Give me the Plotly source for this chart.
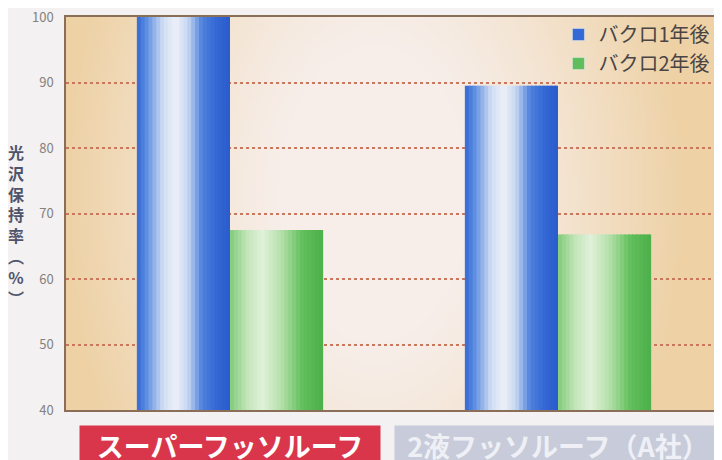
import base64, struct, zlib
import numpy as np
import plotly.graph_objects as go

# ---------------- data ----------------
categories = ["スーパーフッソルーフ", "2液フッソルーフ（A社）"]
series_names = ["バクロ1年後", "バクロ2年後"]
values_1yr = [100, 89.5]
values_2yr = [67.5, 66.8]
y_ticks = [40, 50, 60, 70, 80, 90, 100]
y_title = "光沢保持率(%)"

# ---------------- styling helpers ----------------
def hex2rgb(h):
    h = h.lstrip("#")
    return np.array([int(h[i:i + 2], 16) for i in (0, 2, 4)], float)

def profile(stops, t):
    pos = [p for p, _ in stops]
    cols = [hex2rgb(c) for _, c in stops]
    for i in range(len(pos) - 1):
        if pos[i] <= t <= pos[i + 1]:
            f = (t - pos[i]) / (pos[i + 1] - pos[i])
            c = cols[i] * (1 - f) + cols[i + 1] * f
            return "rgb(%d,%d,%d)" % tuple(c.round())
    c = cols[-1]
    return "rgb(%d,%d,%d)" % tuple(c.round())

blue_stops = [(0.0, "#3468d4"), (0.1, "#5a8ce0"), (0.28, "#cfdcf3"), (0.42, "#eef1f8"),
              (0.55, "#c4d5f1"), (0.7, "#4f82dc"), (0.85, "#3468d4"), (1.0, "#2a5ccb")]
green_stops = [(0.0, "#7fcb79"), (0.18, "#c2e5b8"), (0.35, "#e0f1d9"), (0.55, "#b5e0aa"),
               (0.78, "#62bf5c"), (1.0, "#4caf49")]

def png_data_uri(w, h):
    xs = np.linspace(0, 1, w)[None, :]
    ys = np.linspace(0, 1, h)[:, None]
    d = np.sqrt(((xs - 0.47) / 0.5) ** 2 + ((ys - 0.45) / 1.3) ** 2)
    f = np.clip((d - 0.3) / 0.65, 0, 1) ** 1.2
    c0 = hex2rgb("#f7eee9")
    c1 = hex2rgb("#eed2a6")
    img = (c0[None, None, :] * (1 - f[..., None]) + c1[None, None, :] * f[..., None]).astype(np.uint8)
    raw = b"".join(b"\x00" + img[r].tobytes() for r in range(h))
    def chunk(t, data):
        c = struct.pack(">I", len(data)) + t + data
        return c + struct.pack(">I", zlib.crc32(t + data) & 0xffffffff)
    png = b"\x89PNG\r\n\x1a\n" + chunk(b"IHDR", struct.pack(">IIBBBBB", w, h, 8, 2, 0, 0, 0)) \
        + chunk(b"IDAT", zlib.compress(raw, 9)) + chunk(b"IEND", b"")
    return "data:image/png;base64," + base64.b64encode(png).decode()

FONT = "Noto Sans CJK JP"
fig = go.Figure()

bar_w = 0.284
N = 24
for vals, name, stops, base, legend_t in [
    (values_1yr, series_names[0], blue_stops, -bar_w, 0.85),
    (values_2yr, series_names[1], green_stops, 0.0, 0.8),
]:
    sw = bar_w / N
    for k in range(N):
        t = (k + 0.5) / N
        width = min(sw * 1.6, bar_w - k * sw)
        fig.add_trace(go.Bar(
            x=categories, y=vals,
            offset=base + k * sw, width=width,
            marker=dict(color=profile(stops, t), line=dict(width=0)),
            name=name, showlegend=False, hoverinfo="skip",
        ))
    # legend entry
    fig.add_trace(go.Bar(
        x=categories, y=[None, None], name=name,
        marker=dict(color=profile(stops, legend_t)), showlegend=True,
    ))

fig.update_layout(
    width=714, height=452,
    margin=dict(l=58, r=0, t=9, b=50, autoexpand=False),
    barmode="overlay",
    paper_bgcolor="#f3f1f1",
    plot_bgcolor="rgba(0,0,0,0)",
    font=dict(family=FONT),
    showlegend=True,
    legend=dict(x=0.99, y=1.005, xanchor="right", yanchor="top",
                bgcolor="rgba(0,0,0,0)", font=dict(size=20, color="#4a4444"),
                itemwidth=30, tracegroupgap=0),
    images=[dict(source=png_data_uri(160, 100), xref="paper", yref="paper",
                 x=0, y=1, sizex=1, sizey=1, sizing="stretch",
                 xanchor="left", yanchor="top", layer="below")],
)

fig.update_xaxes(range=[-0.5, 1.5], showticklabels=False, showgrid=False,
                 showline=True, mirror=True, linecolor="#8b6e58", linewidth=1.5,
                 ticks="", fixedrange=True)
fig.update_yaxes(range=[40, 100], tickvals=y_ticks, showgrid=True,
                 griddash="dot", gridcolor="#c9785e", gridwidth=1.5,
                 showline=True, mirror=True, linecolor="#8b6e58", linewidth=1.5,
                 tickfont=dict(size=13, color="#858080"), ticks="", ticklabelstandoff=8,
                 ticklabeloverflow="allow", zeroline=False, fixedrange=True)

# y-axis title (vertical stacked characters)
vert = {"(": "︵", ")": "︶"}
fig.add_annotation(text="<br>".join(vert.get(ch, ch) for ch in y_title),
                   xref="paper", yref="paper", x=0, y=0.471, xshift=-50,
                   xanchor="center", yanchor="middle", showarrow=False,
                   font=dict(size=16, color="#50546a", family=FONT, weight="bold"))

# category labels as badges
badge_styles = [dict(bg="#d9364b", fg="#ffffff", w=300), dict(bg="#c8cbd9", fg="#eef0f6", w=326)]
for cat, st in zip(categories, badge_styles):
    fig.add_annotation(text=cat, x=cat, xref="x", yref="paper", y=-0.037,
                       yanchor="top", showarrow=False, width=st["w"],
                       bgcolor=st["bg"], borderpad=0,
                       font=dict(size=27, color=st["fg"], family=FONT, weight="bold"))

fig.write_html("out.html")
